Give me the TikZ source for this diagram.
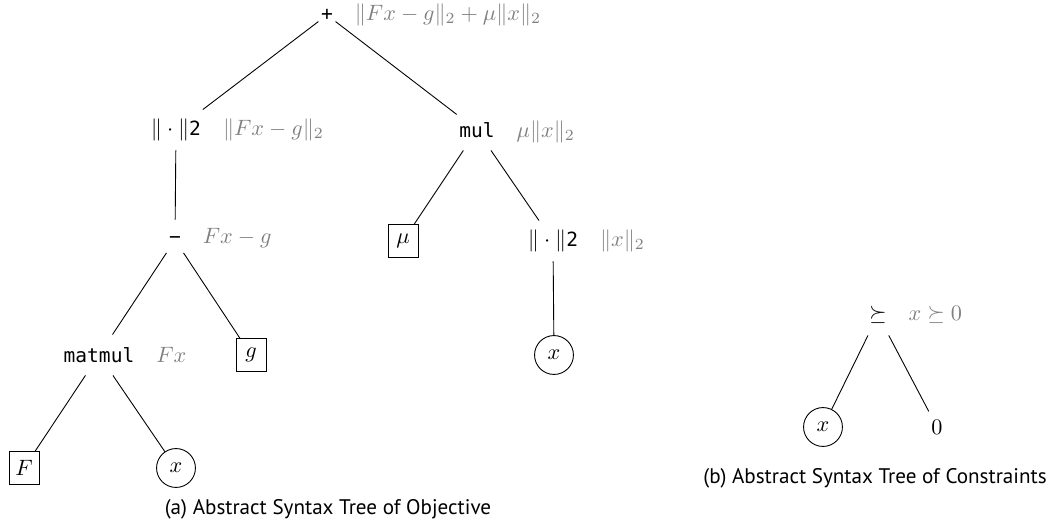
\documentclass[tikz,border=0pt]{standalone}
\usepackage{amsmath}
\usepackage{amssymb}
\usepackage{fontspec}
\setmonofont{DejaVu Sans Mono}[Scale=0.88]
\newfontfamily\capfont{PT Sans}

\tikzset{
  op/.style={font=\ttfamily, minimum height=18pt, inner xsep=1pt, inner ysep=0pt},
  leaf/.style={draw, minimum width=13.5pt, minimum height=14.5pt, inner sep=1pt},
  var/.style={draw, circle, minimum size=17.5pt, inner sep=0pt},
  annot/.style={text=gray, inner sep=0pt, anchor=base west},
  subcap/.style={font=\capfont\fontsize{9.5}{11}\selectfont},
}

\begin{document}
\begin{tikzpicture}[x=0.45pt,y=-0.45pt]
%\draw[gray!30,very thin] (0,0) grid[step=50] (1059,529);
\useasboundingbox (0,0) rectangle (1059,529);

\node[op] (plus)   at (327,15)  {+};
\node[op] (norma)  at (176,130) {$\|\cdot\|$2};
\node[op] (mul)    at (477,130) {mul};
\node[op] (minus)  at (175,240) {\char"2212};
\node[leaf] (mu)   at (403,241) {$\mu$};
\node[op] (normb)  at (553,241) {$\|\cdot\|$2};
\node[op] (matmul) at (99,355)  {matmul};
\node[leaf] (g)    at (251,355) {$g$};
\node[var] (xb)    at (554,355) {$x$};
\node[leaf] (F)    at (24,468)  {$F$};
\node[var] (xa)    at (176,468) {$x$};

\node[annot] (plusnote)   at ([xshift=8.5pt]plus.base east)   {$\|Fx-g\|_2+\mu\|x\|_2$};
\node[annot] (normanote)  at ([xshift=8.5pt]norma.base east)  {$\|Fx-g\|_2$};
\node[annot] (mulnote)    at ([xshift=8.5pt]mul.base east)    {$\mu\|x\|_2$};
\node[annot] (minusnote)  at ([xshift=8.5pt]minus.base east)  {$Fx-g$};
\node[annot] (normbnote)  at ([xshift=8.5pt]normb.base east)  {$\|x\|_2$};
\node[annot] (matmulnote) at ([xshift=8.5pt]matmul.base east) {$Fx$};

\draw (plus) -- (norma);
\draw (plus) -- (mul);
\draw (norma) -- (minus);
\draw (mul) -- (mu);
\draw (mul) -- (normb);
\draw (minus) -- (matmul);
\draw (minus) -- (g);
\draw (normb) -- (xb);
\draw (matmul) -- (F);
\draw (matmul) -- (xa);

\node[op] (geq)   at (878,315) {$\succeq$};
\node[var] (xc)   at (823,427) {$x$};
\node[op] (zero)  at (937,427) {$0$};
\node[annot] (geqnote) at ([xshift=8.5pt]geq.base east) {$x\succeq 0$};

\draw (geq) -- (xc);
\draw (geq) -- (zero);

\node[subcap] (capa) at (328,509) {(a) Abstract Syntax Tree of Objective};
\node[subcap] (capb) at (875,478) {(b) Abstract Syntax Tree of Constraints};

\end{tikzpicture}
\end{document}
